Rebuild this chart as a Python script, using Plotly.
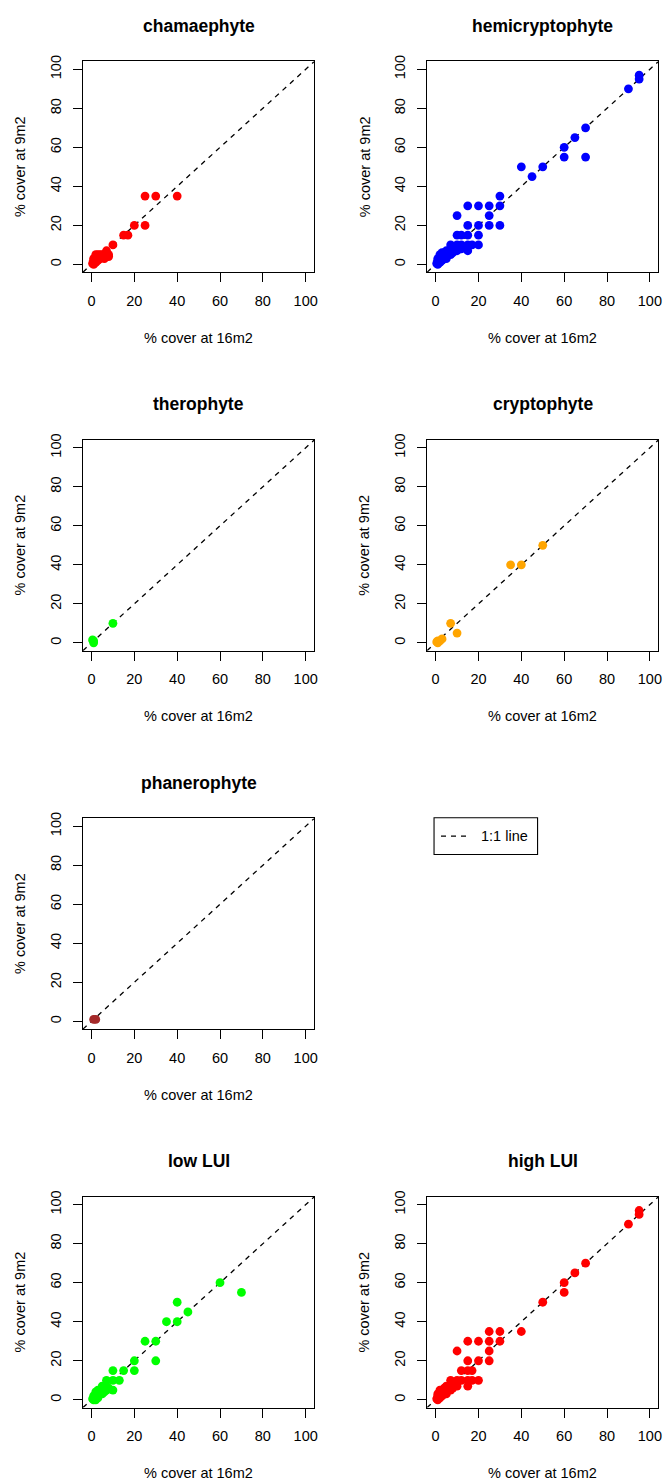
import plotly.graph_objects as go

W, H = 667, 1481
FONT = "Liberation Sans, Arial, Helvetica, sans-serif"

# ---- data: % cover at 16 m2 (x) vs % cover at 9 m2 (y) ----
cham_x = [25, 30, 40, 25, 20, 15, 17, 10, 7, 7, 7, 6, 5, 5, 4, 3, 2, 2, 3, 2, 1, 1, 1, 1, 0.5, 3, 4, 8, 6, 2, 8]
cham_y = [35, 35, 35, 20, 20, 15, 15, 10, 7, 5, 4, 5, 5, 4, 5, 5, 5, 4, 3, 2, 1, 0, 2, 3, 0.5, 2, 3, 5, 3, 1, 4]

hemi_x = [95, 95, 90, 70, 65, 60, 60, 70, 40, 50, 45, 30, 15, 20, 25, 30, 10, 25, 15, 20, 25, 30,
          20, 10, 12, 15, 20, 15, 17, 7, 10, 12, 15, 10, 12,
          8, 7, 5, 5, 3, 2, 3, 2, 1, 1, 0.5, 1, 1, 2, 3, 4, 5, 6, 7, 8, 4, 3, 2]
hemi_y = [97, 95, 90, 70, 65, 60, 55, 55, 50, 50, 45, 35, 30, 30, 30, 30, 25, 25, 20, 20, 20, 20,
          15, 15, 15, 15, 10, 10, 10, 10, 10, 10, 7, 7, 8,
          8, 7, 5, 7, 5, 4, 3, 2, 1, 0, 0.5, 2, 3, 1, 2, 3, 3, 5, 5, 6, 6, 6, 5]

thero_x = [1, 1, 0.5, 10]
thero_y = [1, 0, 1.5, 10]

crypto_x = [50, 40, 35, 7, 10, 1, 2, 3, 1, 0.5]
crypto_y = [50, 40, 40, 10, 5, 1, 1, 2, 0, 0.5]

phanero_x = [1, 2]
phanero_y = [1, 1]

low_x = [60, 70, 40, 45, 35, 40, 25, 30, 30, 20, 20, 15, 10, 13, 7, 10, 10, 5,
         7, 7, 5, 4, 3, 2, 2, 1, 1, 1, 2, 3, 5, 8, 6, 0.5, 3]
low_y = [60, 55, 50, 45, 40, 40, 30, 30, 20, 20, 15, 15, 15, 10, 10, 10, 5, 7,
         5, 7, 5, 5, 3, 2, 4, 1, 2, 0, 0, 5, 3, 6, 4, 0.5, 1]

high_x = [95, 95, 90, 70, 65, 60, 60, 50, 40, 25, 30, 15, 20, 25, 30, 10, 25, 15, 20, 25,
          12, 15, 17, 7, 10, 15, 17, 20, 12, 15, 10,
          8, 7, 5, 5, 3, 2, 3, 2, 1, 1, 0.5, 1, 1, 2, 3, 4, 5, 6, 7, 8, 4, 2]
high_y = [97, 95, 90, 70, 65, 60, 55, 50, 35, 35, 35, 30, 30, 30, 30, 25, 25, 20, 20, 20,
          15, 15, 15, 10, 10, 10, 10, 10, 10, 7, 7,
          8, 7, 5, 7, 5, 4, 3, 2, 1, 0, 0.5, 2, 3, 1, 2, 3, 3, 5, 5, 6, 6, 5]

tick_vals = [0, 20, 40, 60, 80, 100]
axis_range = [-4, 104]

# name, x, y, colour, column, row
panels = [
    ("chamaephyte", cham_x, cham_y, "#FF0000", 0, 0),
    ("hemicryptophyte", hemi_x, hemi_y, "#0000FF", 1, 0),
    ("therophyte", thero_x, thero_y, "#00FF00", 0, 1),
    ("cryptophyte", crypto_x, crypto_y, "#FFA500", 1, 1),
    ("phanerophyte", phanero_x, phanero_y, "#A52A2A", 0, 2),
    ("low LUI", low_x, low_y, "#00FF00", 0, 3),
    ("high LUI", high_x, high_y, "#FF0000", 1, 3),
]

# plot-box geometry in pixels
col_left = [83.3, 429.0]
box_w = 232.4
row_top = [55.7, 435.7, 815.7, 1195.7]
box_h = 211.6


def px(x):
    return x / W


def py(y):
    return 1 - y / H


fig = go.Figure()
layout = dict(
    width=W, height=H,
    margin=dict(l=0, r=0, t=0, b=0),
    paper_bgcolor="white", plot_bgcolor="white",
    showlegend=False,
    font=dict(family=FONT, size=14.5, color="black"),
)
annotations = []
shapes = []

for i, (name, xs, ys, col, c, r) in enumerate(panels):
    n = "" if i == 0 else str(i + 1)
    xa, ya = "x" + n, "y" + n
    left, top = col_left[c], row_top[r]
    right, bottom = left + box_w, top + box_h

    # 1:1 reference line across the full plotting range
    fig.add_trace(go.Scatter(
        x=axis_range, y=axis_range, mode="lines", xaxis=xa, yaxis=ya,
        line=dict(color="black", width=1.3, dash="5px,5px"), hoverinfo="skip"))
    fig.add_trace(go.Scatter(
        x=xs, y=ys, mode="markers", xaxis=xa, yaxis=ya, name=name,
        marker=dict(color=col, size=8.8, line=dict(width=0))))

    common = dict(
        range=axis_range, tickvals=tick_vals, ticks="outside", ticklen=9,
        tickwidth=1.2, tickcolor="black", showline=True, mirror=True,
        linecolor="black", linewidth=1.2, showgrid=False, zeroline=False,
        tickfont=dict(family=FONT, size=14.5, color="black"),
        ticklabelstandoff=6,
    )
    layout["xaxis" + n] = dict(common, domain=[px(left), px(right)], anchor=ya)
    layout["yaxis" + n] = dict(common, domain=[py(bottom), py(top)], anchor=xa,
                               tickangle=-90)

    cx = (left + right) / 2
    annotations.append(dict(
        text="<b>" + name + "</b>", x=px(cx), y=py(top - 36), xref="paper", yref="paper",
        showarrow=False, xanchor="center", yanchor="middle",
        font=dict(family=FONT, size=17.5, color="black")))
    annotations.append(dict(
        text="% cover at 16m2", x=px(cx), y=py(bottom + 66), xref="paper", yref="paper",
        showarrow=False, xanchor="center", yanchor="middle",
        font=dict(family=FONT, size=14.5, color="black")))
    annotations.append(dict(
        text="% cover at 9m2", x=px(left - 63), y=py((top + bottom) / 2),
        xref="paper", yref="paper", textangle=-90,
        showarrow=False, xanchor="center", yanchor="middle",
        font=dict(family=FONT, size=14.5, color="black")))

# legend box
lg_l, lg_t, lg_r, lg_b = 436, 815, 540, 852
shapes.append(dict(type="rect", xref="paper", yref="paper",
                   x0=px(lg_l), x1=px(lg_r), y0=py(lg_b), y1=py(lg_t),
                   line=dict(color="black", width=1.1), fillcolor="white"))
shapes.append(dict(type="line", xref="paper", yref="paper",
                   x0=px(443), x1=px(471), y0=py(833.5), y1=py(833.5),
                   line=dict(color="black", width=1.3, dash="5px,5px")))
annotations.append(dict(text="1:1 line", x=px(481), y=py(833.5), xref="paper", yref="paper",
                        showarrow=False, xanchor="left", yanchor="middle",
                        font=dict(family=FONT, size=14.5, color="black")))

layout["annotations"] = annotations
layout["shapes"] = shapes
fig.update_layout(**layout)
fig.write_html("out.html")
